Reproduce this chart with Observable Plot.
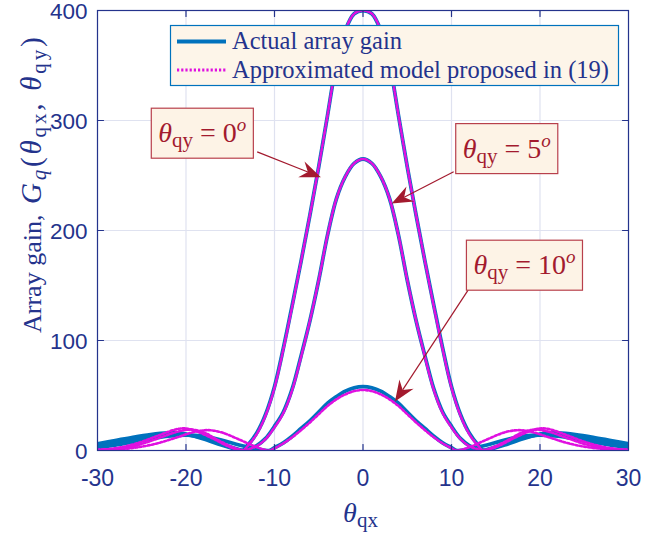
<!DOCTYPE html>
<html><head><meta charset="utf-8">
<script src="https://cdn.jsdelivr.net/npm/d3@7"></script>
<script src="https://cdn.jsdelivr.net/npm/@observablehq/plot@0.6"></script>
<style>
html,body{margin:0;padding:0;background:#fff;}
#chart{width:667px;height:536px;}
</style></head><body><div id="chart"></div>
<script>
// ---- data (x >= 0 half, curves are symmetric) ----
const xTicks = [-30, -20, -10, 0, 10, 20, 30];
const yTicks = [0, 100, 200, 300, 400];
const thetaQy = [0, 5, 10];

// main lobes
const actualMain0 = [[0,400],[1,397],[2,382],[3,352],[4,305],[5,258],[6,214],[7,172],[8,132],[9,93],[10,58],[11,33],[12,16],[13,5],[13.6,0]];
const actualMain5 = [[0,265],[1,261],[2,249],[3,229],[4,196],[5,155],[6,118],[7,86],[8,56],[9,35],[10,22],[11,11],[12,4.5],[13,1],[13.4,0]];
const actualMain10 = [[0,58],[1,57],[2,54],[3,49],[4,43],[5,35],[6,27],[7,20],[8,13],[9,7],[10,2.5],[10.6,0]];
const approxMain0 = [[0,400],[1,397],[2,382],[3,352],[4,305],[5,258],[6,214],[7,172],[8,131],[9,92],[10,57],[11,32],[12,15],[13,4.5],[13.6,0]];
const approxMain5 = [[0,265],[1,261],[2,249],[3,229],[4,196],[5,155],[6,118],[7,85],[8,55],[9,34],[10,21],[11,10.5],[12,4],[13,1],[13.4,0]];
const approxMain10 = [[0,55],[1,54],[2,51],[3,46.5],[4,40.5],[5,33],[6,25.5],[7,18.5],[8,12],[9,6.5],[10,2],[10.6,0]];

// side lobes
const actualSide0 = [[14.5,1.5],[16,5],[18,10.5],[20,15],[21,16],[22,16],[24,14.5],[26,12],[28,9],[30,6]];
const actualSide5 = [[14.5,2],[16,6],[18,11.5],[20,14.5],[21,15],[23,13.5],[25,11],[27,8],[30,4]];
const actualSide10 = [[12,1.5],[14,5],[16,9.5],[18,13],[20,14],[22,13],[24,10.5],[26,7.5],[28,5],[30,2.5]];
const approxSide0 = [[15,3],[17,11],[19,18],[20,20],[21,19.5],[23,14],[25,8],[27,3.5],[29,1],[30,0.5]];
const approxSide5 = [[15,4],[16.5,10],[18,16.5],[19.5,19],[21,17],[23,11.5],[25,6],[27,2.5],[30,0.5]];
const approxSide10 = [[12,3],[14,10],[16,16.5],[17.5,18.5],[19,17],[21,12],[23,7],[25,3.5],[27,1.5],[30,0.5]];

const legendLabels = ["Actual array gain", "Approximated model proposed in (19)"];

// annotations (data coordinates)
const annotValues = ["0", "5", "10"];
const annotBoxX = [-18.1, 16.3, 18.3];
const annotBoxY = [288, 274, 168];
const arrowFromX = [-11.9, 10.3, 11.95];
const arrowFromY = [271, 253, 145.5];
const arrowTipX = [-4.7, 3.3, 3.67];
const arrowTipY = [248, 224, 44];

// ---- build tables ----
function full(main, side) {
  const half = main.concat(side);
  const neg = half.slice(1).map(([x, y]) => [-x, y]).reverse();
  return neg.concat(half);
}
const actualSets = [[actualMain0, actualSide0], [actualMain5, actualSide5], [actualMain10, actualSide10]];
const approxSets = [[approxMain0, approxSide0], [approxMain5, approxSide5], [approxMain10, approxSide10]];
const actualRows = [], approxRows = [];
actualSets.forEach(([m, s], i) => full(m, s).forEach(([x, y]) => actualRows.push({qy: thetaQy[i], x, y})));
approxSets.forEach(([m, s], i) => full(m, s).forEach(([x, y]) => approxRows.push({qy: thetaQy[i], x, y})));

const navy = "#24338c";
const blue = "#0072BD";
const magenta = "#e010e0";
const red = "#a31a2e";
const dash = "2.2,2";

const tickShape = {draw(context, l) { context.moveTo(0, 0); context.lineTo(0, -l); }};

const plot = Plot.plot({
  width: 667, height: 536,
  marginLeft: 97, marginRight: 39, marginTop: 10, marginBottom: 86,
  x: {domain: [-30, 30], label: null},
  y: {domain: [0, 400], label: null},
  style: {fontFamily: "'Liberation Sans', Arial, sans-serif", background: "white", color: navy, overflow: "visible"},
  marks: [
    Plot.gridX(xTicks, {stroke: "#dfe2f0", strokeOpacity: 1, strokeWidth: 1.2}),
    Plot.gridY(yTicks, {stroke: "#dfe2f0", strokeOpacity: 1, strokeWidth: 1.2}),
    Plot.line(actualRows, {x: "x", y: "y", z: "qy", stroke: blue, strokeWidth: 3.8, curve: "catmull-rom", clip: true}),
    Plot.line(approxRows, {x: "x", y: "y", z: "qy", stroke: magenta, strokeWidth: 2.6, strokeDasharray: dash, curve: "catmull-rom", clip: true}),
    Plot.frame({stroke: navy, strokeWidth: 1.2}),
    Plot.vector(xTicks.slice(1, -1), {x: d => d, y: 0, length: 6, rotate: 0, anchor: "start", shape: tickShape, stroke: navy, strokeWidth: 1.2}),
    Plot.vector(xTicks.slice(1, -1), {x: d => d, y: 400, length: 6, rotate: 180, anchor: "start", shape: tickShape, stroke: navy, strokeWidth: 1.2}),
    Plot.vector(yTicks.slice(1, -1), {x: -30, y: d => d, length: 6, rotate: 90, anchor: "start", shape: tickShape, stroke: navy, strokeWidth: 1.2}),
    Plot.vector(yTicks.slice(1, -1), {x: 30, y: d => d, length: 6, rotate: -90, anchor: "start", shape: tickShape, stroke: navy, strokeWidth: 1.2}),
    Plot.axisX(xTicks, {anchor: "bottom", tickSize: 0, tickPadding: 19, fontSize: 23, tickFormat: d => String(d), fill: navy}),
    Plot.axisY(yTicks, {anchor: "left", tickSize: 0, tickPadding: 10, fontSize: 22.5, tickFormat: d => String(d), fill: navy, dy: 1})
  ]
});
document.getElementById("chart").appendChild(plot);

const sx = v => plot.scale("x").apply(v);
const sy = v => plot.scale("y").apply(v);
const svg = d3.select(plot);
const serif = "'Liberation Serif', 'Times New Roman', serif";

// ---- axis titles ----
svg.append("text")
  .attr("transform", "translate(41,333) rotate(-90)")
  .attr("text-anchor", "start").attr("fill", navy)
  .attr("font-family", serif).attr("font-size", 26)
  .text("Array gain,");
const ym = svg.append("text")
  .attr("transform", "translate(41,204) rotate(-90)")
  .attr("text-anchor", "start").attr("fill", navy)
  .attr("font-family", serif).attr("font-size", 29)
  .attr("letter-spacing", 2.8);
ym.append("tspan").attr("font-style", "italic").text("G");
ym.append("tspan").attr("font-style", "italic").attr("font-size", 21).attr("dy", 5).text("q");
ym.append("tspan").attr("dy", -5).text("(");
ym.append("tspan").attr("font-style", "italic").text("θ");
ym.append("tspan").attr("font-size", 21).attr("dy", 5).text("qx");
ym.append("tspan").attr("dy", -5).text(", ");
ym.append("tspan").attr("font-style", "italic").text("θ");
ym.append("tspan").attr("font-size", 21).attr("dy", 5).text("qy");
ym.append("tspan").attr("dy", -5).text(")");

const xlab = svg.append("text")
  .attr("x", sx(0) - 2).attr("y", 522)
  .attr("text-anchor", "middle").attr("fill", navy)
  .attr("font-family", serif).attr("font-size", 28);
xlab.append("tspan").attr("font-style", "italic").text("θ");
xlab.append("tspan").attr("font-size", 21).attr("dy", 5).text("qx");

// ---- legend ----
const lg = svg.append("g");
lg.append("rect").attr("x", 170.5).attr("y", 25.5).attr("width", 448).attr("height", 60)
  .attr("fill", "#fdf5e9").attr("stroke", blue).attr("stroke-width", 1.2);
lg.append("line").attr("x1", 177).attr("x2", 226).attr("y1", 41.5).attr("y2", 41.5)
  .attr("stroke", blue).attr("stroke-width", 3.8);
lg.append("line").attr("x1", 177).attr("x2", 226).attr("y1", 70).attr("y2", 70)
  .attr("stroke", magenta).attr("stroke-width", 2.8).attr("stroke-dasharray", dash);
legendLabels.forEach((t, i) => {
  lg.append("text").attr("x", 232).attr("y", 49 + i * 28.5)
    .attr("text-anchor", "start")
    .attr("fill", navy).attr("font-family", serif).attr("font-size", 24.5).text(t);
});

// ---- annotations ----
annotValues.forEach((v, i) => {
  const g = svg.append("g");
  const x1 = sx(arrowFromX[i]), y1 = sy(arrowFromY[i]);
  const x2 = sx(arrowTipX[i]), y2 = sy(arrowTipY[i]);
  const ang = Math.atan2(y2 - y1, x2 - x1);
  const L = 21, W = 8.5, N = 14;
  const ca = Math.cos(ang), sa = Math.sin(ang);
  const P = (a, b) => [x2 - a * ca - b * sa, y2 - a * sa + b * ca];
  const bx = P(N, 0);
  g.append("line").attr("x1", x1).attr("y1", y1).attr("x2", bx[0]).attr("y2", bx[1])
    .attr("stroke", red).attr("stroke-width", 1.2);
  const pts = [[x2, y2], P(L, -W), P(N, 0), P(L, W)];
  g.append("path").attr("d", "M" + pts.map(p => p.join(",")).join("L") + "Z").attr("fill", red);

  const cx = sx(annotBoxX[i]), cy = sy(annotBoxY[i]);
  const t = g.append("text").attr("x", cx).attr("y", cy + 9).attr("text-anchor", "middle")
    .attr("fill", red).attr("font-family", serif).attr("font-size", 28);
  t.append("tspan").attr("font-style", "italic").text("θ");
  t.append("tspan").attr("font-size", 21).attr("dy", 5).text("qy");
  t.append("tspan").attr("dy", -5).text(" = " + v);
  t.append("tspan").attr("font-style", "italic").attr("font-size", 19).attr("dy", -11).text("o");
  const bb = t.node().getBBox();
  const w = bb.width + 14, h = 50;
  g.insert("rect", "text").attr("x", cx - w / 2).attr("y", cy - h / 2).attr("width", w).attr("height", h)
    .attr("fill", "#fdf3e6").attr("stroke", "#b8404c").attr("stroke-width", 1.2);
});
</script>
</body></html>
